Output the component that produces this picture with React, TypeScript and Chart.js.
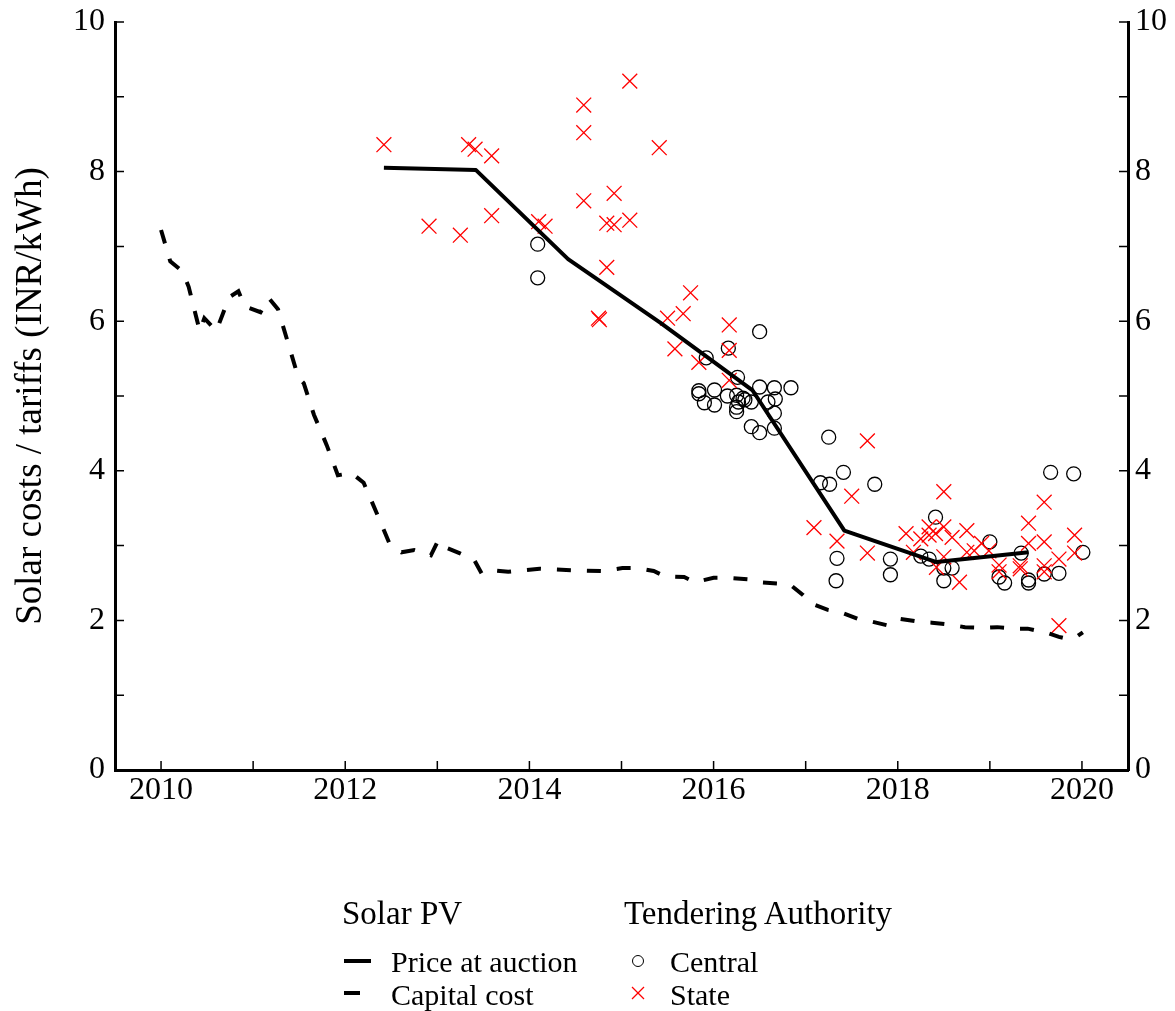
import React, { useEffect, useRef } from 'react';
import { Chart, registerables } from 'chart.js';

Chart.register(...registerables);

const FONT = "'Liberation Serif', 'Times New Roman', Times, serif";

// Solar PV: price at auction (annual)
const priceYears = [2012.42, 2013.42, 2014.42, 2015.42, 2016.42, 2017.42, 2018.42, 2019.42];
const priceValues = [8.05, 8.02, 6.83, 5.98, 5.08, 3.2, 2.78, 2.91];

// Solar PV: capital cost
const capexYears = [
  2010.0, 2010.1, 2010.23, 2010.3, 2010.42, 2010.47, 2010.6, 2010.74, 2010.84, 2010.91,
  2011.08, 2011.17, 2011.27, 2011.49, 2011.55, 2011.66, 2011.8, 2011.92, 2012.07, 2012.2,
  2012.34, 2012.48, 2012.61, 2012.75, 2012.93, 2013.01, 2013.1, 2013.24, 2013.4, 2013.48,
  2013.61, 2013.77, 2014.11, 2014.47, 2014.8, 2015.01, 2015.17, 2015.35, 2015.47, 2015.68,
  2015.8, 2016.0, 2016.16, 2016.37, 2016.48, 2016.71, 2016.84, 2016.97, 2017.07, 2017.24,
  2017.38, 2017.57, 2017.7, 2017.9, 2018.03, 2018.24, 2018.37, 2018.58, 2018.73, 2018.93,
  2019.08, 2019.27, 2019.41, 2019.63, 2019.75, 2019.85, 2019.95, 2020.01,
];
const capexValues = [
  7.22, 6.8, 6.67, 6.46, 5.87, 6.04, 5.87, 6.32, 6.4, 6.2,
  6.12, 6.31, 6.16, 5.25, 5.17, 4.75, 4.34, 3.94, 3.97, 3.84,
  3.44, 3.03, 2.91, 2.94, 2.87, 3.07, 2.97, 2.9, 2.81, 2.63,
  2.67, 2.65, 2.69, 2.67, 2.66, 2.7, 2.7, 2.66, 2.59, 2.58,
  2.51, 2.57, 2.57, 2.55, 2.51, 2.49, 2.47, 2.34, 2.22, 2.14,
  2.11, 2.02, 1.99, 1.93, 2.02, 1.98, 1.97, 1.94, 1.91, 1.9,
  1.91, 1.89, 1.89, 1.83, 1.78, 1.75, 1.79, 1.84,
];

// Tendering authority: Central
const centralYears = [
  2014.09, 2014.09, 2016.5, 2015.92, 2016.16, 2016.26, 2015.84, 2015.84, 2016.01, 2015.9,
  2016.01, 2016.15, 2016.25, 2016.27, 2016.25, 2016.25, 2016.34, 2016.41, 2016.5, 2016.66,
  2016.84, 2016.59, 2016.67, 2016.66, 2016.41, 2016.5, 2016.66, 2017.25, 2017.41, 2017.16,
  2017.26, 2017.75, 2017.34, 2017.33, 2017.92, 2017.92, 2018.41, 2018.25, 2018.34, 2018.5,
  2018.59, 2018.5, 2019.0, 2019.1, 2019.16, 2019.34, 2019.42, 2019.42, 2019.59, 2019.75,
  2019.66, 2019.91, 2020.01, 2016.32,
];
const centralValues = [
  7.03, 6.58, 5.86, 5.51, 5.64, 5.25, 5.07, 5.03, 5.08, 4.91,
  4.88, 5.0, 5.01, 4.92, 4.85, 4.79, 4.95, 4.92, 5.12, 5.11,
  5.11, 4.92, 4.96, 4.77, 4.59, 4.51, 4.57, 4.45, 3.98, 3.84,
  3.82, 3.82, 2.83, 2.53, 2.82, 2.61, 3.38, 2.86, 2.82, 2.7,
  2.7, 2.53, 3.05, 2.58, 2.5, 2.9, 2.54, 2.5, 2.62, 2.63,
  3.98, 3.96, 2.91, 4.97,
];

// Tendering authority: State
const stateYears = [
  2012.42, 2012.91, 2013.25, 2013.34, 2013.41, 2013.59, 2013.59, 2014.1, 2014.17, 2014.59,
  2014.59, 2014.59, 2014.92, 2014.84, 2014.92, 2015.09, 2014.84, 2014.75, 2014.76, 2015.09,
  2015.41, 2015.5, 2015.67, 2015.75, 2015.58, 2015.84, 2016.17, 2016.17, 2016.17, 2017.09,
  2017.34, 2017.5, 2017.67, 2017.67, 2018.09, 2018.17, 2018.25, 2018.34, 2018.34, 2018.41,
  2018.5, 2018.5, 2018.59, 2018.75, 2018.75, 2018.83, 2018.91, 2018.99, 2018.5, 2018.42,
  2018.67, 2019.1, 2019.1, 2019.33, 2019.33, 2019.42, 2019.42, 2019.59, 2019.59, 2019.59,
  2019.59, 2019.75, 2019.92, 2019.92, 2019.75,
];
const stateValues = [
  8.36, 7.27, 7.15, 8.36, 8.3, 8.21, 7.41, 7.33, 7.27, 8.89,
  8.52, 7.61, 7.71, 7.31, 7.29, 7.35, 6.72, 6.04, 6.02, 9.21,
  8.32, 6.04, 6.1, 6.38, 5.63, 5.45, 5.95, 5.61, 5.21, 3.24,
  3.06, 3.66, 4.4, 2.9, 3.16, 2.91, 3.09, 3.25, 3.14, 3.16,
  3.25, 3.72, 3.11, 3.2, 2.91, 2.93, 3.03, 2.93, 2.85, 2.71,
  2.51, 2.74, 2.65, 2.73, 2.69, 3.3, 3.03, 3.58, 3.05, 2.73,
  2.65, 2.82, 3.14, 2.9, 1.93,
];

const xTickLabels = [2010, 2012, 2014, 2016, 2018, 2020];
const yTickLabels = [0, 2, 4, 6, 8, 10];
const xMinorTicks = [2010, 2011, 2012, 2013, 2014, 2015, 2016, 2017, 2018, 2019, 2020];
const yMinorTicks = [0, 1, 2, 3, 4, 5, 6, 7, 8, 9, 10];

const yTitle = 'Solar costs / tariffs (INR/kWh)';

const pts = (xs: number[], ys: number[]) => xs.map((x, i) => ({ x, y: ys[i] }));

const TICK_LEN = 9;

const inwardTicks = {
  id: 'inwardTicks',
  afterDraw(chart: any) {
    const { ctx, chartArea, scales } = chart;
    ctx.save();
    ctx.strokeStyle = '#000';
    ctx.lineWidth = 1.5;
    ctx.beginPath();
    for (const v of yMinorTicks) {
      const py = scales.y.getPixelForValue(v);
      ctx.moveTo(chartArea.left, py);
      ctx.lineTo(chartArea.left + TICK_LEN, py);
      ctx.moveTo(chartArea.right, py);
      ctx.lineTo(chartArea.right - TICK_LEN, py);
    }
    for (const v of xMinorTicks) {
      const px = scales.x.getPixelForValue(v);
      ctx.moveTo(px, chartArea.bottom);
      ctx.lineTo(px, chartArea.bottom - TICK_LEN);
    }
    ctx.stroke();
    // y axis title
    ctx.translate(31, (chartArea.top + chartArea.bottom) / 2);
    ctx.rotate(-Math.PI / 2);
    ctx.fillStyle = '#000';
    ctx.font = `37px ${FONT}`;
    ctx.textAlign = 'center';
    ctx.textBaseline = 'middle';
    ctx.fillText(yTitle, 0, 0);
    ctx.restore();
  },
};

const tickFont = { family: FONT, size: 32 };

function yScale(position: 'left' | 'right', width: number, padding: number) {
  return {
    type: 'linear',
    position,
    min: 0,
    max: 10,
    grid: { drawOnChartArea: false, drawTicks: false },
    border: { display: true, color: '#000', width: 3 },
    ticks: {
      font: tickFont,
      color: '#000',
      padding,
      callback: (v: number) => String(v),
    },
    afterBuildTicks: (scale: any) => {
      scale.ticks = yTickLabels.map((value) => ({ value }));
    },
    afterFit: (scale: any) => {
      scale.width = width;
      scale.paddingTop = 0;
      scale.paddingBottom = 0;
    },
  };
}

export default function App() {
  const ref = useRef<HTMLCanvasElement>(null);

  useEffect(() => {
    if (!ref.current) return;
    const chart = new Chart(ref.current, {
      type: 'scatter',
      data: {
        datasets: [
          {
            label: 'Price at auction',
            data: pts(priceYears, priceValues),
            showLine: true,
            borderColor: '#000',
            borderWidth: 4,
            pointRadius: 0,
            borderJoinStyle: 'round',
            tension: 0,
          },
          {
            label: 'Capital cost',
            data: pts(capexYears, capexValues),
            showLine: true,
            borderColor: '#000',
            borderWidth: 4,
            borderDash: [14, 16],
            borderCapStyle: 'butt',
            pointRadius: 0,
            tension: 0,
          },
          {
            label: 'State',
            data: pts(stateYears, stateValues),
            pointStyle: 'crossRot',
            pointRadius: 10.5,
            pointBorderColor: '#ff0000',
            borderColor: '#ff0000',
            pointBorderWidth: 1.3,
            backgroundColor: 'rgba(0,0,0,0)',
          },
          {
            label: 'Central',
            data: pts(centralYears, centralValues),
            pointStyle: 'circle',
            pointRadius: 7,
            pointBorderColor: '#000',
            borderColor: '#000',
            pointBorderWidth: 1.3,
            pointBackgroundColor: 'rgba(0,0,0,0)',
            backgroundColor: 'rgba(0,0,0,0)',
          },
        ],
      },
      options: {
        responsive: false,
        animation: false,
        devicePixelRatio: 1,
        layout: { padding: { top: 22, left: 0, right: 0, bottom: 0 } },
        plugins: { legend: { display: false }, tooltip: { enabled: false } },
        scales: {
          x: {
            type: 'linear',
            position: 'bottom',
            min: 2009.5,
            max: 2020.5,
            grid: { drawOnChartArea: false, drawTicks: false },
            border: { display: true, color: '#000', width: 3 },
            ticks: {
              font: tickFont,
              color: '#000',
              padding: 1,
              maxRotation: 0,
              autoSkip: false,
              callback: (v: number) => String(v),
            },
            afterBuildTicks: (scale: any) => {
              scale.ticks = xTickLabels.map((value) => ({ value }));
            },
            afterFit: (scale: any) => {
              scale.height = 241;
              scale.paddingLeft = 0;
              scale.paddingRight = 0;
            },
          },
          y: yScale('left', 115, 10),
          y2: yScale('right', 47, 7),
        },
      } as any,
      plugins: [inwardTicks],
    } as any);
    return () => chart.destroy();
  }, []);

  const title: React.CSSProperties = {
    position: 'absolute',
    fontSize: 33,
    lineHeight: '33px',
    whiteSpace: 'nowrap',
    color: '#000',
  };
  const item: React.CSSProperties = {
    position: 'absolute',
    fontSize: 30,
    lineHeight: '30px',
    whiteSpace: 'nowrap',
    color: '#000',
  };

  return (
    <div
      style={{
        position: 'absolute',
        left: 0,
        top: 0,
        width: 1175,
        height: 1011,
        background: '#fff',
        fontFamily: FONT,
        overflow: 'hidden',
      }}
    >
      <canvas ref={ref} width={1175} height={1011} style={{ position: 'absolute', left: 0, top: 0 }} />
      <div style={{ ...title, left: 342, top: 897 }}>Solar PV</div>
      <div style={{ ...title, left: 624, top: 897 }}>Tendering Authority</div>
      <div style={{ position: 'absolute', left: 344, top: 959, width: 27, height: 4, background: '#000' }} />
      <div style={{ ...item, left: 391, top: 947 }}>Price at auction</div>
      <div style={{ position: 'absolute', left: 344, top: 991, width: 16, height: 4, background: '#000' }} />
      <div style={{ ...item, left: 391, top: 980 }}>Capital cost</div>
      <div
        style={{
          position: 'absolute',
          left: 632,
          top: 955,
          width: 12,
          height: 12,
          boxSizing: 'border-box',
          borderRadius: '50%',
          border: '1.3px solid #000',
        }}
      />
      <div style={{ ...item, left: 670, top: 947 }}>Central</div>
      <svg style={{ position: 'absolute', left: 631, top: 986 }} width={14} height={14}>
        <line x1={1} y1={1} x2={13} y2={13} stroke="#ff0000" strokeWidth={1.3} />
        <line x1={13} y1={1} x2={1} y2={13} stroke="#ff0000" strokeWidth={1.3} />
      </svg>
      <div style={{ ...item, left: 670, top: 980 }}>State</div>
    </div>
  );
}
